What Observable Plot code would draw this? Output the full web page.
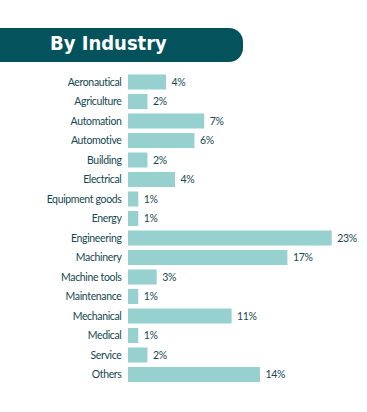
<!DOCTYPE html>
<html>
<head>
<meta charset="utf-8">
<script src="https://cdn.jsdelivr.net/npm/d3@7"></script>
<script src="https://cdn.jsdelivr.net/npm/@observablehq/plot@0.6"></script>
<style>
  html, body { margin: 0; padding: 0; background: #fff; width: 367px; height: 412px; overflow: hidden; }
  #banner {
    position: absolute; left: 0; top: 28px; width: 243px; height: 34px;
    background: #03525c; border-radius: 0 14px 14px 0;
    color: #fff; font-family: "DejaVu Sans Condensed", "DejaVu Sans", sans-serif; font-weight: bold;
    font-size: 20px; line-height: 31px; padding-left: 50px; box-sizing: border-box;
  }
  #chart { position: absolute; left: 0; top: 62px; }
  #chart svg text { letter-spacing: -0.35px; }
</style>
</head>
<body>
<div id="banner">By Industry</div>
<div id="chart"></div>
<script>
const industries = ["Aeronautical", "Agriculture", "Automation", "Automotive", "Building", "Electrical",
  "Equipment goods", "Energy", "Engineering", "Machinery", "Machine tools", "Maintenance",
  "Mechanical", "Medical", "Service", "Others"];
// bar lengths as drawn (estimated share, %)
const shares = [4.3, 2.2, 8.6, 7.5, 2.2, 5.3, 1.16, 1.16, 23, 18.0, 3.24, 1.16, 11.7, 1.16, 2.2, 14.9];
// printed labels
const labels = ["4%", "2%", "7%", "6%", "2%", "4%", "1%", "1%", "23%", "17%", "3%", "1%", "11%", "1%", "2%", "14%"];

const data = industries.map((d, i) => ({industry: d, share: shares[i], label: labels[i]}));

const textColor = "#164750";
const chart = Plot.plot({
  width: 367,
  height: 334,
  marginLeft: 128,
  marginRight: 35.3,
  marginTop: 10.25,
  marginBottom: 11.75,
  style: {fontFamily: "Lato, sans-serif", fontSize: "10.5px", color: textColor, background: "transparent"},
  x: {domain: [0, 23], axis: null},
  y: {domain: industries, paddingInner: 0.23, paddingOuter: 0.115, round: false, label: null, tickSize: 0, tickPadding: 7},
  marks: [
    Plot.barX(data, {x: "share", y: "industry", fill: "#96d1d0"}),
    Plot.text(data, {x: "share", y: "industry", text: "label", dx: 5, textAnchor: "start", fill: textColor, fontSize: 10.5})
  ]
});
document.getElementById("chart").appendChild(chart);
</script>
</body>
</html>
